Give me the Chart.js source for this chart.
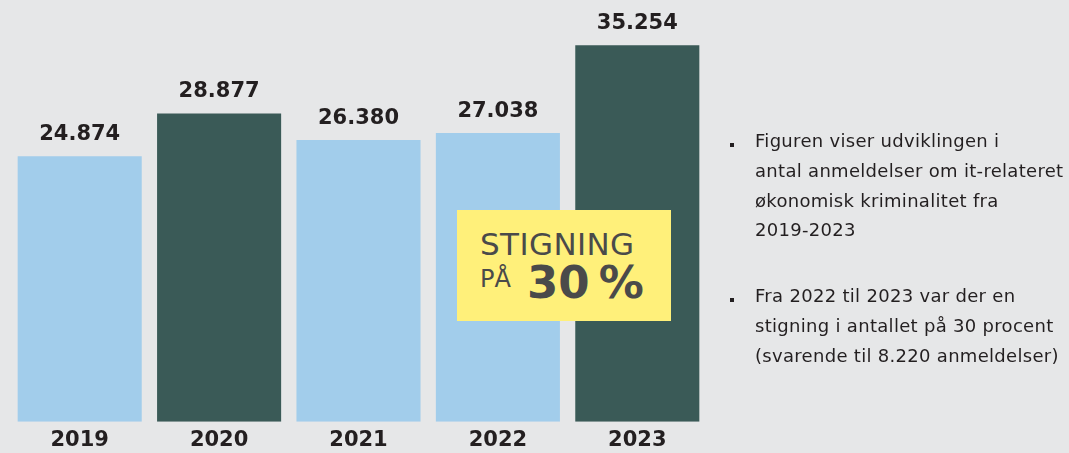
<!DOCTYPE html>
<html>
<head>
<meta charset="utf-8">
<script src="https://cdn.jsdelivr.net/npm/chart.js@4.4.1/dist/chart.umd.min.js"></script>
<style>
  html, body { margin: 0; padding: 0; background: #e6e7e8; }
  #wrap { position: relative; width: 1069px; height: 453px; overflow: hidden; font-family: "DejaVu Sans", sans-serif; }
  #c { position: absolute; left: 0; top: 0; }
  .box { position: absolute; left: 457px; top: 210px; width: 214px; height: 111px; background: #fff07a; color: #4a4a4a; }
  .box span { position: absolute; line-height: 1; white-space: nowrap; }
  .note { position: absolute; left: 755px; width: 330px; font-size: 18px; letter-spacing: 0.3px; line-height: 29.8px; color: #231f20; }
  .bul { position: absolute; left: 730px; width: 4px; height: 4px; background: #231f20; }
</style>
</head>
<body>
<div id="wrap">
  <canvas id="c" width="1069" height="460"></canvas>
  <div class="box">
    <span style="left:23px; top:19px; font-size:31px; letter-spacing:0.4px;">STIGNING</span>
    <span style="left:23px; top:57px; font-size:24px;">PÅ</span>
    <span style="left:70px; top:50px; font-size:45px; font-weight:bold;">30<span style="position:static;font-size:45px;">&#8201;</span>%</span>
  </div>
  <div class="bul" style="top:143px;"></div>
  <div class="note" style="top:126px;">Figuren viser udviklingen i<br>antal anmeldelser om it-relateret<br>økonomisk kriminalitet fra<br>2019-2023</div>
  <div class="bul" style="top:298px;"></div>
  <div class="note" style="top:281px;">Fra 2022 til 2023 var der en<br>stigning i antallet på 30 procent<br>(svarende til 8.220 anmeldelser)</div>
</div>
<script>
// data
var years = ["2019", "2020", "2021", "2022", "2023"];
var anmeldelser = [24874, 28877, 26380, 27038, 35254];

var lyseBla = "#a2cdeb";
var moerkGroen = "#3a5a57";
var farver = [lyseBla, moerkGroen, lyseBla, lyseBla, moerkGroen];

// tal med punktum som tusindtalsseparator
function fmt(v) {
  return String(v).replace(/\B(?=(\d{3})+(?!\d))/g, ".");
}

// værdier over søjlerne
var vaerdiLabels = {
  id: "vaerdiLabels",
  afterDatasetsDraw: function (chart) {
    var ctx = chart.ctx;
    var meta = chart.getDatasetMeta(0);
    ctx.save();
    ctx.font = "bold 21px 'DejaVu Sans'";
    ctx.fillStyle = "#231f20";
    ctx.textAlign = "center";
    ctx.textBaseline = "alphabetic";
    meta.data.forEach(function (bar, i) {
      ctx.fillText(fmt(anmeldelser[i]), bar.x, bar.y - 16);
    });
    ctx.restore();
  }
};

var ctx = document.getElementById("c");
var chart = new Chart(ctx, {
  type: "bar",
  data: {
    labels: years,
    datasets: [{
      data: anmeldelser,
      backgroundColor: farver,
      borderWidth: 0,
      barPercentage: 0.89,
      categoryPercentage: 1.0
    }]
  },
  options: {
    responsive: false,
    animation: false,
    layout: { padding: { left: 10, right: 362, top: 0, bottom: 1 } },
    plugins: { legend: { display: false }, tooltip: { enabled: false } },
    scales: {
      x: {
        grid: { display: false, drawTicks: false },
        border: { display: false },
        ticks: {
          color: "#231f20",
          padding: 6,
          font: { family: "DejaVu Sans", size: 21, weight: "bold" }
        }
      },
      y: {
        display: false,
        min: 0,
        max: 39500
      }
    }
  },
  plugins: [vaerdiLabels]
});
</script>
</body>
</html>
